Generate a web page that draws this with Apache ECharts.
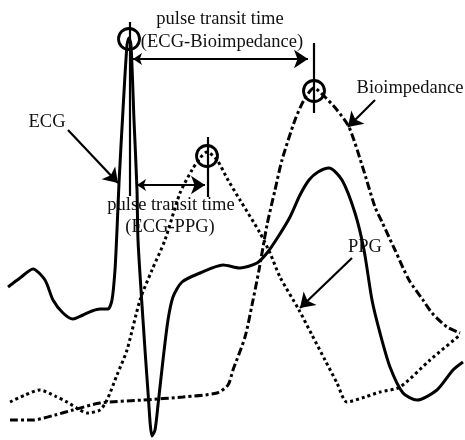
<!DOCTYPE html>
<html>
<head>
<meta charset="utf-8">
<script src="https://cdn.jsdelivr.net/npm/echarts@6/dist/echarts.min.js"></script>
<style>
  html, body { margin: 0; padding: 0; background: #fff; }
  #chart { width: 465px; height: 440px; }
</style>
</head>
<body>
<div id="chart"></div>
<script>
// curves (x = time, y = screen-like amplitude, top = 0)
const ecg = [
  [8, 287], [20, 278], [33, 269], [45, 280], [53, 300], [63, 313], [73, 319], [83, 315],
  [92, 311], [100, 309], [108, 309], [112, 300], [115, 270], [117, 230], [119, 183],
  [123, 110], [127, 45], [129, 38], [131, 45], [134, 120], [137, 190], [138, 240],
  [143, 320], [148, 392], [152, 436], [155, 430], [158, 405], [163, 360], [168, 320],
  [173, 297], [182, 282], [200, 273], [223, 265], [240, 268], [257, 263], [267, 253],
  [278, 237], [290, 217], [300, 195], [309, 180], [318, 172], [329, 168], [342, 180],
  [355, 213], [364, 250], [372, 300], [380, 333], [390, 367], [403, 393], [417, 400],
  [437, 390], [453, 370], [463, 362]
];
const ppg = [
  [10, 402], [25, 395], [40, 390], [55, 396], [67, 402], [80, 410], [87, 413],
  [100, 410], [107, 400], [117, 375], [127, 350], [140, 300], [152, 270], [165, 240],
  [180, 193], [192, 170], [200, 158], [207, 152], [217, 160], [228, 180], [240, 200],
  [260, 233], [270, 253], [280, 277], [299, 310], [312, 335], [325, 360], [337, 383],
  [347, 402], [365, 397], [380, 392], [400, 387], [430, 360], [460, 335]
];
const bio = [
  [10, 420], [33, 420], [55, 415], [73, 410], [100, 403], [143, 400], [183, 397],
  [217, 393], [228, 385], [233, 370], [245, 337], [252, 305], [259, 270], [267, 225],
  [275, 190], [282, 160], [295, 120], [304, 100], [314, 88], [325, 97], [337, 110],
  [349, 127], [362, 165], [375, 207], [382, 222], [395, 250], [409, 280], [423, 300],
  [432, 313], [447, 327], [460, 333]
];
const peaks = [[129, 39], [207, 156], [314, 91]];
const labels = ['pulse transit time', '(ECG-Bioimpedance)', 'pulse transit time', '(ECG-PPG)', 'ECG', 'Bioimpedance', 'PPG'];

const chart = echarts.init(document.getElementById('chart'));
const ink = '#000';
const font = '"Liberation Serif", "DejaVu Serif", serif';

function arrow(from, to, both) {
  return {
    type: 'lines',
    coordinateSystem: 'cartesian2d',
    symbol: both ? ['arrow', 'arrow'] : ['none', 'arrow'],
    symbolSize: [9, 14],
    lineStyle: { color: ink, width: 2.2, opacity: 1, curveness: 0 },
    silent: true,
    data: [{ coords: [from, to] }]
  };
}
function tick(x, y1, y2) {
  return {
    type: 'line', data: [[x, y1], [x, y2]], symbol: 'none', silent: true,
    lineStyle: { color: ink, width: 2.2 }
  };
}
function label(text, x, y, align) {
  return {
    type: 'text', x: x, y: y,
    style: { text: text, font: '18.5px ' + font, fill: '#111', align: align || 'center', verticalAlign: 'middle' }
  };
}

chart.setOption({
  animation: false,
  grid: { left: 0, right: 0, top: 0, bottom: 0 },
  xAxis: { type: 'value', min: 0, max: 465, show: false },
  yAxis: { type: 'value', min: 0, max: 440, inverse: true, show: false },
  series: [
    {
      name: 'ECG', type: 'line', data: ecg, symbol: 'none', smooth: 0.25,
      lineStyle: { color: ink, width: 3 }
    },
    {
      name: 'PPG', type: 'line', data: ppg, symbol: 'none', smooth: 0.25,
      lineStyle: { color: ink, width: 3, type: [3, 3] }
    },
    {
      name: 'Bioimpedance', type: 'line', data: bio, symbol: 'none', smooth: 0.25,
      lineStyle: { color: ink, width: 3, type: [8, 3, 3, 3] }
    },
    {
      type: 'scatter', data: peaks, symbol: 'circle', symbolSize: 21, silent: true,
      itemStyle: { color: 'rgba(0,0,0,0)', borderColor: ink, borderWidth: 2.8, opacity: 1 }
    },
    tick(130, 22, 196),
    tick(208, 137, 197),
    tick(314, 43, 113),
    arrow([133, 59], [308, 59], true),
    arrow([137, 185], [205, 185], true),
    arrow([68, 130], [118, 183]),
    arrow([375, 100], [348, 127]),
    arrow([352, 258], [300, 308])
  ],
  graphic: [
    label(labels[0], 220, 19),
    label(labels[1], 222, 42),
    label(labels[2], 171, 205),
    label(labels[3], 170, 227),
    label(labels[4], 47, 122),
    label(labels[5], 410, 88),
    label(labels[6], 365, 247)
  ]
});
</script>
</body>
</html>
